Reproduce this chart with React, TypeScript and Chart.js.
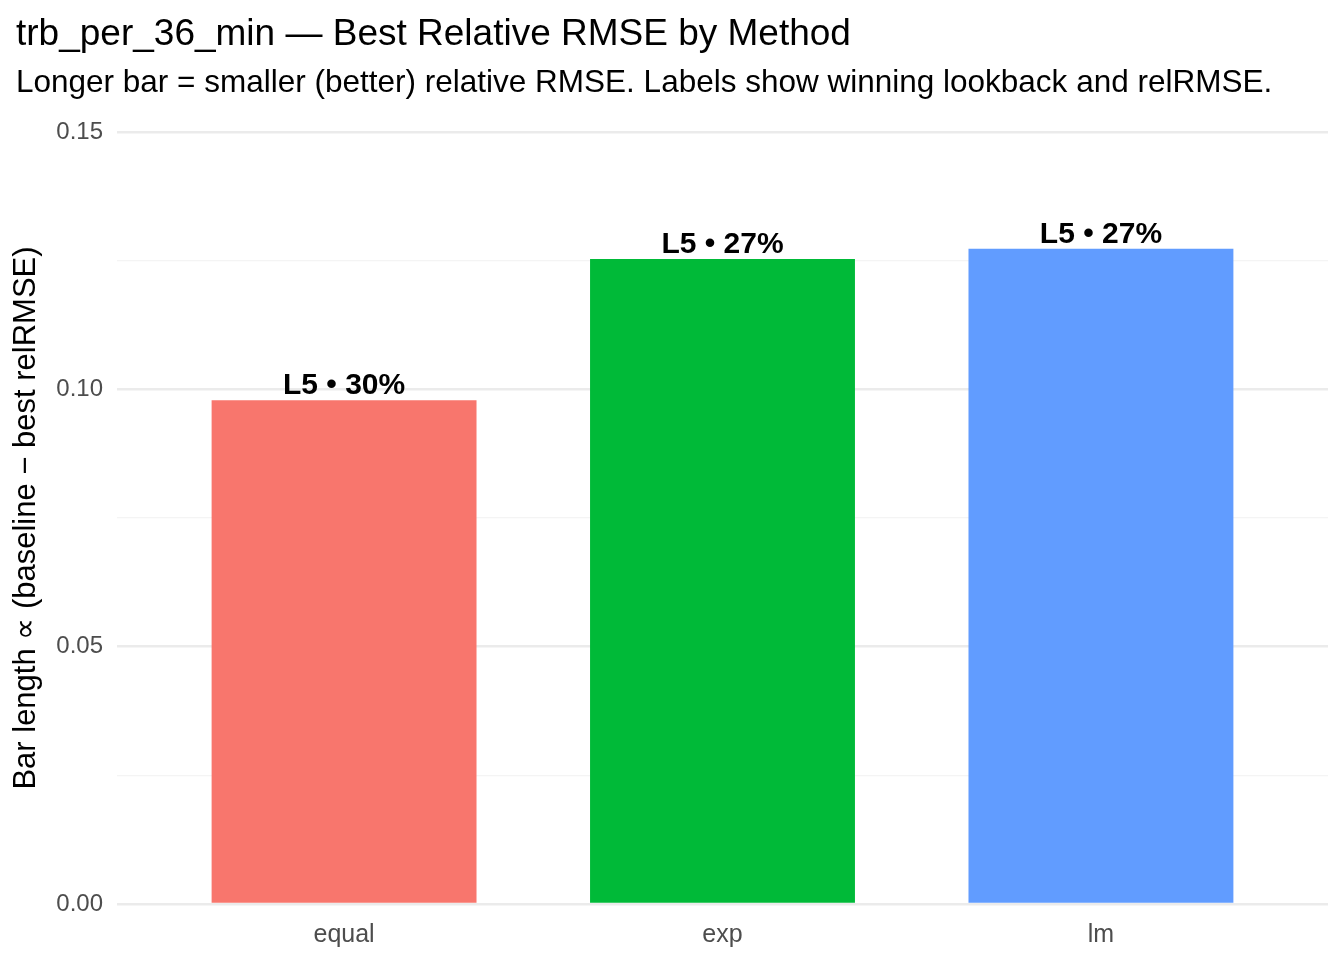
import React, { useEffect, useRef } from "react";
import { Chart, registerables } from "chart.js";
Chart.register(...registerables);

const categories = ["equal", "exp", "lm"];
const values = [0.0979, 0.1253, 0.1273];
const labels = ["L5 • 30%", "L5 • 27%", "L5 • 27%"];
const colors = ["#F8766D", "#00BA38", "#619CFF"];
const FONT = "'Liberation Sans', Arial, sans-serif";

const overlay = {
  id: "overlay",
  afterDraw(chart: any) {
    const ctx = chart.ctx;
    ctx.save();
    ctx.fillStyle = "#000";
    ctx.textAlign = "left";
    ctx.textBaseline = "alphabetic";
    ctx.font = `37px ${FONT}`;
    ctx.fillText("trb_per_36_min — Best Relative RMSE by Method", 16, 45);
    ctx.font = `31.5px ${FONT}`;
    ctx.fillText("Longer bar = smaller (better) relative RMSE. Labels show winning lookback and relRMSE.", 16, 92);
    const meta = chart.getDatasetMeta(0);
    ctx.font = `bold 30px ${FONT}`;
    ctx.textAlign = "center";
    meta.data.forEach((bar: any, i: number) => {
      ctx.fillText(labels[i], bar.x, bar.y - 6);
    });
    ctx.restore();
  },
};

export default function App() {
  const ref = useRef<HTMLCanvasElement>(null);
  useEffect(() => {
    document.body.style.margin = "0";
    const chart = new Chart(ref.current!, {
      type: "bar",
      data: {
        datasets: [
          {
            data: values.map((v, i) => ({ x: i + 1, y: v })),
            backgroundColor: colors,
            barPercentage: 0.7,
            categoryPercentage: 1,
          },
        ],
      },
      options: {
        animation: false,
        responsive: false,
        layout: { padding: { top: 132, right: 16, left: 0, bottom: 0 } },
        plugins: { legend: { display: false }, tooltip: { enabled: false }, title: { display: false } },
        scales: {
          x: {
            type: "linear",
            offset: false,
            min: 0.4,
            max: 3.6,
            afterFit: (s: any) => { s.height = 56; },
            afterBuildTicks: (s: any) => { s.ticks = [1, 2, 3].map((v) => ({ value: v })); },
            ticks: {
              callback: (v: any) => categories[Number(v) - 1] ?? "",
              color: "#4d4d4d",
              font: { family: FONT, size: 25 },
              padding: 8,
            },
            grid: { display: false },
            border: { display: false },
          },
          y: {
            min: 0,
            max: 0.15,
            afterFit: (s: any) => { s.width = 117; },
            ticks: {
              stepSize: 0.025,
              callback: (v: any) => {
                const n = Math.round(Number(v) * 1000);
                return n % 50 === 0 ? (n / 1000).toFixed(2) : "";
              },
              color: "#4d4d4d",
              font: { family: FONT, size: 24 },
              padding: 14,
            },
            grid: {
              color: (c: any) => (Math.round(c.tick.value * 1000) % 50 === 0 ? "#ebebeb" : "#f4f4f4"),
              lineWidth: (c: any) => (Math.round(c.tick.value * 1000) % 50 === 0 ? 2.5 : 1.2),
              drawTicks: false,
            },
            border: { display: false },
            title: {
              display: true,
              text: "Bar length ∝ (baseline − best relRMSE)",
              color: "#000",
              font: { family: FONT, size: 31 },
              padding: { top: 8, bottom: 4 },
            },
          },
        },
      },
      plugins: [overlay],
    });
    return () => chart.destroy();
  }, []);
  return <canvas ref={ref} width={1344} height={960} style={{ display: "block" }} />;
}
